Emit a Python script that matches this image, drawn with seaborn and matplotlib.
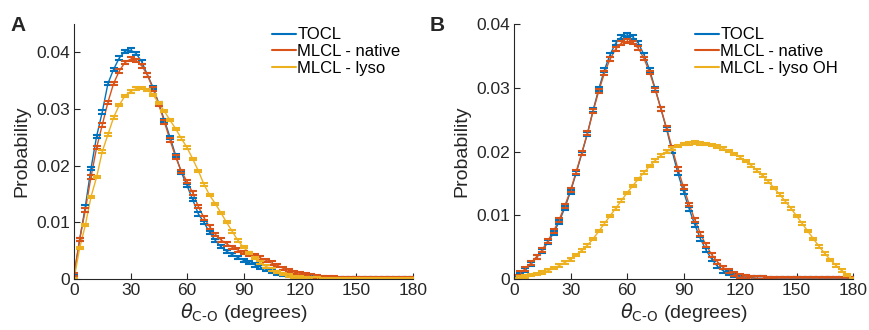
import numpy as np
import pandas as pd
import seaborn as sns
import matplotlib
matplotlib.use('Agg')
import matplotlib.pyplot as plt

# углы (градусы), шаг 3
theta = list(range(0, 181, 3))

# панель A
a_tocl = [0.0005, 0.0070, 0.0128, 0.0195, 0.0252, 0.0295, 0.0345, 0.0370, 0.0390, 0.0402,
          0.0404, 0.0398, 0.0383, 0.0360, 0.0338, 0.0310, 0.0280, 0.0250, 0.0218, 0.0188,
          0.0165, 0.0140, 0.0115, 0.0100, 0.0082, 0.0068, 0.0057, 0.0049, 0.0043, 0.0038,
          0.0033, 0.0029, 0.0025, 0.0021, 0.0017, 0.0013, 0.0010, 0.0008, 0.0006, 0.0004,
          0.0003, 0.0002, 0.00015, 0.0001, 0.0001, 0.00005, 0.00005, 0.0, 0.0, 0.0,
          0.0, 0.0, 0.0, 0.0, 0.0, 0.0, 0.0, 0.0, 0.0, 0.0, 0.0]
a_native = [0.0008, 0.0070, 0.0122, 0.0180, 0.0232, 0.0272, 0.0312, 0.0345, 0.0367, 0.0382,
            0.0388, 0.0386, 0.0376, 0.0360, 0.0335, 0.0308, 0.0277, 0.0245, 0.0215, 0.0190,
            0.0172, 0.0152, 0.0128, 0.0108, 0.0092, 0.0079, 0.0069, 0.0062, 0.0056, 0.0051,
            0.0047, 0.0044, 0.0041, 0.0037, 0.0033, 0.0028, 0.0024, 0.0019, 0.0015, 0.0012,
            0.0010, 0.0008, 0.0006, 0.0004, 0.0003, 0.0002, 0.00015, 0.0001, 0.0001, 0.00005,
            0.00005, 0.0, 0.0, 0.0, 0.0, 0.0, 0.0, 0.0, 0.0, 0.0, 0.0]
a_lyso = [0.0, 0.0055, 0.0095, 0.0145, 0.0180, 0.0225, 0.0255, 0.0285, 0.0307, 0.0323,
          0.0331, 0.0336, 0.0337, 0.0334, 0.0325, 0.0310, 0.0296, 0.0280, 0.0265, 0.0248,
          0.0232, 0.0212, 0.0191, 0.0167, 0.0148, 0.0133, 0.0117, 0.0100, 0.0084, 0.0068,
          0.0056, 0.0046, 0.0037, 0.0029, 0.0022, 0.0017, 0.0012, 0.0009, 0.0006, 0.0004,
          0.0003, 0.0002, 0.0001, 0.0001, 0.00005, 0.0, 0.0, 0.0, 0.0, 0.0,
          0.0, 0.0, 0.0, 0.0, 0.0, 0.0, 0.0, 0.0, 0.0, 0.0, 0.0]

# панель B
b_tocl = [0.0002, 0.0007, 0.0014, 0.0023, 0.0034, 0.0044, 0.0058, 0.0072, 0.0090, 0.0112,
          0.0137, 0.0166, 0.0197, 0.0228, 0.0265, 0.0298, 0.0328, 0.0352, 0.0370, 0.0380,
          0.0383, 0.0380, 0.0370, 0.0352, 0.0328, 0.0298, 0.0267, 0.0235, 0.0200, 0.0166,
          0.0137, 0.0110, 0.0085, 0.0063, 0.0045, 0.0031, 0.0020, 0.0013, 0.0009, 0.0006,
          0.0004, 0.0003, 0.0002, 0.0001, 0.0001, 0.00005, 0.0, 0.0, 0.0, 0.0,
          0.0, 0.0, 0.0, 0.0, 0.0, 0.0, 0.0, 0.0, 0.0, 0.0, 0.0]
b_native = [0.0003, 0.0009, 0.0016, 0.0025, 0.0035, 0.0046, 0.0060, 0.0075, 0.0093, 0.0115,
            0.0139, 0.0168, 0.0198, 0.0229, 0.0263, 0.0295, 0.0323, 0.0345, 0.0361, 0.0370,
            0.0373, 0.0371, 0.0362, 0.0346, 0.0324, 0.0297, 0.0267, 0.0237, 0.0205, 0.0173,
            0.0144, 0.0117, 0.0093, 0.0071, 0.0053, 0.0038, 0.0027, 0.0018, 0.0012, 0.0008,
            0.0005, 0.0003, 0.0002, 0.0001, 0.0001, 0.00005, 0.00005, 0.0, 0.0, 0.0,
            0.0, 0.0, 0.0, 0.0, 0.0, 0.0, 0.0, 0.0, 0.0, 0.0, 0.0]
b_lyso_oh = [0.0, 0.0002, 0.0004, 0.0006, 0.0008, 0.0010, 0.0013, 0.0017, 0.0021, 0.0026,
             0.0031, 0.0038, 0.0045, 0.0053, 0.0063, 0.0075, 0.0087, 0.0099, 0.0111, 0.0123,
             0.0135, 0.0146, 0.0157, 0.0167, 0.0177, 0.0186, 0.0194, 0.0200, 0.0205, 0.0209,
             0.0212, 0.0213, 0.0214, 0.0213, 0.0212, 0.0210, 0.0208, 0.0205, 0.0201, 0.0196,
             0.0191, 0.0185, 0.0178, 0.0170, 0.0162, 0.0153, 0.0143, 0.0133, 0.0122, 0.0111,
             0.0099, 0.0087, 0.0075, 0.0063, 0.0051, 0.0040, 0.0030, 0.0021, 0.0013, 0.0006,
             0.0]

# погрешности (примерно постоянные)
err_a = {'TOCL': 0.0003, 'MLCL - native': 0.0003, 'MLCL - lyso': 0.0002}
err_b = {'TOCL': 0.0003, 'MLCL - native': 0.0003, 'MLCL - lyso OH': 0.0002}

colors = ['#0072BD', '#D95319', '#EDB120']
xticks = [0, 30, 60, 90, 120, 150, 180]
yticks = [0, 0.01, 0.02, 0.03, 0.04]
ytick_labels = ['0', '0.01', '0.02', '0.03', '0.04']

sns.set_theme(style='ticks')
plt.rcParams['font.family'] = ['Liberation Sans', 'DejaVu Sans']
plt.rcParams['xtick.direction'] = 'in'
plt.rcParams['ytick.direction'] = 'in'
text_col = '#262626'

fig = plt.figure(figsize=(8.7, 3.3), dpi=100)
ax_a = fig.add_axes([0.0851, 0.1545, 0.3896, 0.7727])
ax_b = fig.add_axes([0.5908, 0.1545, 0.3897, 0.7727])


def draw_panel(ax, series, errs, ymax, leg_x):
    df = pd.DataFrame({
        'theta': theta * len(series),
        'p': sum([v for v in series.values()], []),
        'name': sum([[k] * len(theta) for k in series], []),
    })
    sns.lineplot(data=df, x='theta', y='p', hue='name', palette=colors,
                 linewidth=1.0, ax=ax, legend=True)
    for (name, vals), c in zip(series.items(), colors):
        ax.errorbar(theta, vals, yerr=errs[name], fmt='none', ecolor=c,
                    elinewidth=0.8, capsize=3.2, capthick=1.5)
    ax.set_xlim(0, 180)
    ax.set_ylim(0, ymax)
    ax.set_xticks(xticks)
    ax.set_yticks(yticks)
    ax.set_yticklabels(ytick_labels)
    ax.tick_params(labelsize=12.5, colors=text_col, length=4, width=0.8, pad=3)
    for s in ['left', 'bottom']:
        ax.spines[s].set_color(text_col)
        ax.spines[s].set_linewidth(0.8)
    sns.despine(ax=ax)
    ax.set_xlabel('$\\theta_{\\mathrm{C\u2010O}}$ (degrees)', fontsize=14,
                  color=text_col, labelpad=2)
    ax.set_ylabel('Probability', fontsize=14, color=text_col, labelpad=4)
    leg = ax.legend(loc='upper left', bbox_to_anchor=(leg_x, 1.0), frameon=False,
                    fontsize=12, handlelength=1.4, handletextpad=0.1,
                    labelspacing=0.1, borderaxespad=0.0, borderpad=0.2)
    for t in leg.get_texts():
        t.set_color('black')
    for h in leg.get_lines():
        h.set_linewidth(1.5)


draw_panel(ax_a, {'TOCL': a_tocl, 'MLCL - native': a_native, 'MLCL - lyso': a_lyso},
           err_a, 0.045, 0.575)
draw_panel(ax_b, {'TOCL': b_tocl, 'MLCL - native': b_native, 'MLCL - lyso OH': b_lyso_oh},
           err_b, 0.04, 0.525)

fig.text(0.012, 0.905, 'A', fontsize=15, fontweight='bold')
fig.text(0.494, 0.905, 'B', fontsize=15, fontweight='bold')

fig.savefig('out.png', dpi=100)
